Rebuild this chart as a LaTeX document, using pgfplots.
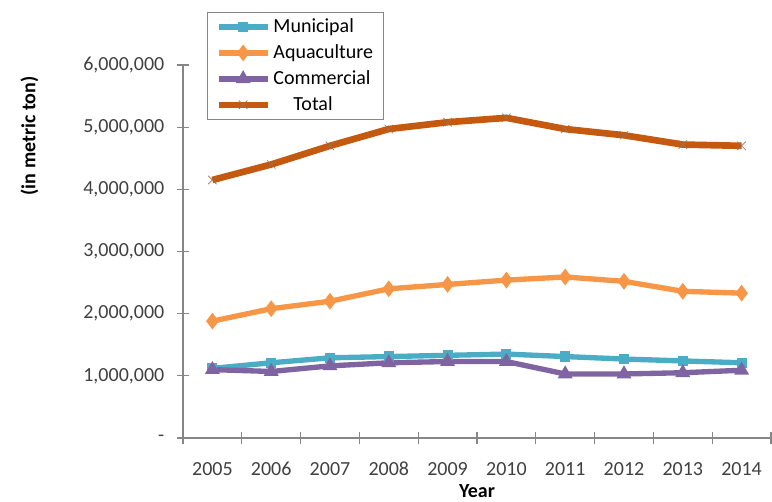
\documentclass[border=0pt]{standalone}
\usepackage{pgfplots}
\pgfplotsset{compat=1.18}
\usepackage{fontspec}
\setmainfont{Carlito}
\definecolor{muni}{HTML}{4BACC6}
\definecolor{aqua}{HTML}{F79646}
\definecolor{comm}{HTML}{8064A2}
\definecolor{tot}{HTML}{C4590F}
\definecolor{axgray}{HTML}{868686}
\definecolor{txt}{HTML}{404040}
\begin{document}
\begin{tikzpicture}
\begin{axis}[
  at={(0,0)}, anchor=south west,
  scale only axis,
  width=441pt, height=279.75pt,
  xmin=-0.5, xmax=9.5,
  ymin=0, ymax=6000000,
  axis lines*=left,
  axis line style={axgray, line width=0.8pt},
  xtick={0,...,9},
  xticklabels={2005,2006,2007,2008,2009,2010,2011,2012,2013,2014},
  minor xtick={-0.5,0.5,...,9.5},
  major x tick style={draw=none},
  minor x tick style={axgray, line width=0.8pt},
  minor tick length=9pt,
  ytick={0,1000000,...,6000000},
  yticklabels={-,{1,000,000},{2,000,000},{3,000,000},{4,000,000},{5,000,000},{6,000,000}},
  y tick style={axgray, line width=0.8pt},
  major tick length=9pt,
  tick align=center,
  tick label style={font=\fontsize{15}{18}\selectfont, text=txt},
  xticklabel style={anchor=base, yshift=-23.5pt},
  yticklabel style={xshift=-6pt},
  /pgf/number format/assume math mode=true,
  scaled y ticks=false,
  xlabel={\textbf{Year}},
  ylabel={\textbf{(in metric ton)}},
  label style={font=\fontsize{15}{18}\selectfont, text=black},
  xlabel style={at={(axis description cs:0.5,0)}, yshift=-31pt, anchor=north},
  ylabel style={at={(axis description cs:0,0.81)}, anchor=south, yshift=105pt},
  legend style={at={(axis description cs:0.041,1.142)}, anchor=north west,
    draw=axgray, line width=0.6pt, font=\fontsize{15}{18}\selectfont,
    row sep=3.5pt, inner xsep=6pt, inner ysep=3pt, cells={anchor=west}},
  legend cell align=left,
  legend image code/.code={\draw[#1, line width=4.5pt] (0cm,0cm) -- (1.3cm,0cm); \draw[#1] plot coordinates {(0.65cm,0cm)};},
  clip=false,
]
\addplot[muni, line width=4pt, mark=square*, mark size=1.8pt, mark options={solid, fill=muni}]
  coordinates {(0,1120000)(1,1210000)(2,1290000)(3,1310000)(4,1330000)(5,1350000)(6,1310000)(7,1270000)(8,1240000)(9,1210000)};
\addlegendentry{Municipal}
\addplot[aqua, line width=4pt, mark=diamond*, mark size=3pt, mark options={solid, fill=aqua}]
  coordinates {(0,1880000)(1,2080000)(2,2200000)(3,2400000)(4,2470000)(5,2540000)(6,2590000)(7,2520000)(8,2360000)(9,2330000)};
\addlegendentry{Aquaculture}
\addplot[comm, line width=4pt, mark=triangle*, mark size=2.5pt, mark options={solid, fill=comm}]
  coordinates {(0,1100000)(1,1070000)(2,1160000)(3,1210000)(4,1230000)(5,1230000)(6,1030000)(7,1030000)(8,1050000)(9,1090000)};
\addlegendentry{Commercial}
\addplot[tot, line width=5pt, mark=x, mark size=4.5pt, mark options={solid, line width=0.5pt, draw=tot!40!gray}]
  coordinates {(0,4150000)(1,4400000)(2,4700000)(3,4970000)(4,5080000)(5,5150000)(6,4970000)(7,4870000)(8,4720000)(9,4700000)};
\addlegendentry{\quad Total}
\end{axis}
\pgfresetboundingbox
\path (-137.25pt,-47.25pt) rectangle (441.75pt,328.5pt);
\end{tikzpicture}
\end{document}
